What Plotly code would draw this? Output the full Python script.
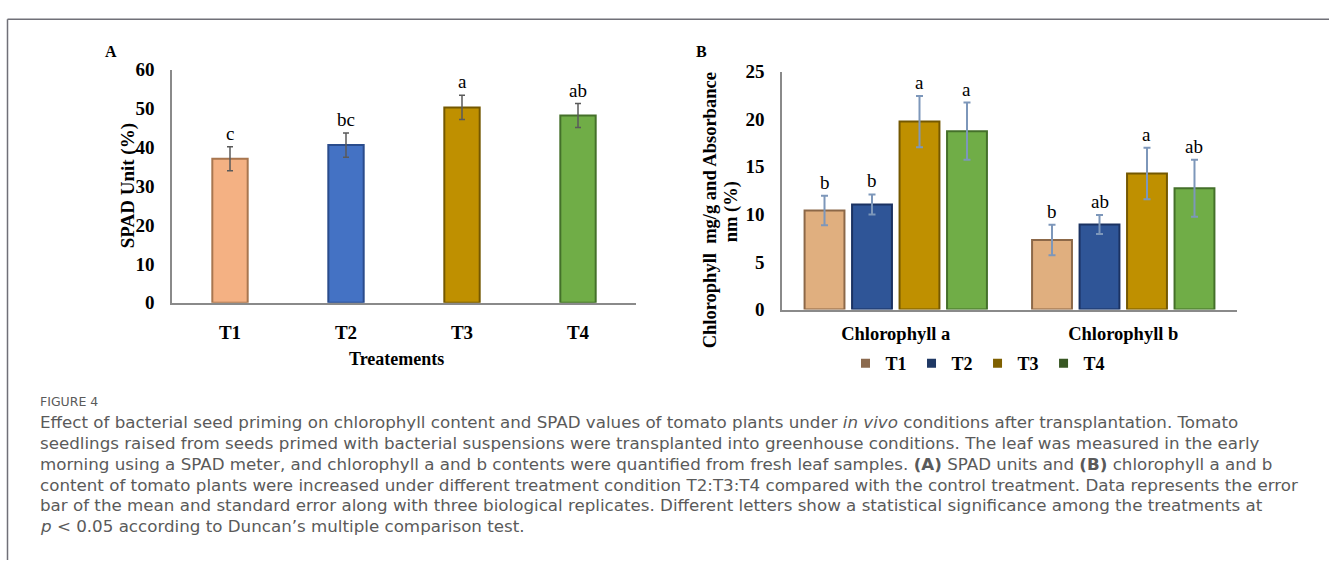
import plotly.graph_objects as go

W, H = 1329, 571

# ---------------- data ----------------
treatments = ["T1", "T2", "T3", "T4"]
spad_values = [37.1, 40.6, 50.3, 48.2]
spad_errors = [3.1, 3.1, 3.1, 3.1]
spad_letters = ["c", "bc", "a", "ab"]

pigments = ["Chlorophyll a", "Chlorophyll b"]
chl_T1 = [10.4, 7.3]
chl_T2 = [11.05, 8.95]
chl_T3 = [19.75, 14.3]
chl_T4 = [18.75, 12.75]
chl_T1_err = [1.55, 1.6]
chl_T2_err = [1.05, 1.0]
chl_T3_err = [2.7, 2.7]
chl_T4_err = [3.0, 3.0]
chl_T1_letters = ["b", "b"]
chl_T2_letters = ["b", "ab"]
chl_T3_letters = ["a", "a"]
chl_T4_letters = ["a", "ab"]

# ---------------- styles ----------------
SERIF = "Liberation Serif"
SANS = "DejaVu Sans"
A_fill = ["#F4B183", "#4472C4", "#BF9000", "#70AD47"]
A_edge = ["#A8764F", "#2A4C8C", "#745800", "#44702A"]
B_fill = ["#E0AF7F", "#2F5597", "#BF9000", "#70AD47"]
B_edge = ["#8C6848", "#1B3262", "#745800", "#44702A"]
B_legend = ["#8B6A4E", "#1F3864", "#7F6000", "#385723"]

def px_x(p):
    return p / W

def px_y(p):
    return 1 - p / H

# panel geometry (pixels)
A_left, A_right, A_bottom, A_top = 172, 636, 304, 62
B_left, B_right, B_bottom, B_top = 782, 1237, 311, 64
B_bargap, B_groupgap = 0.165, 0.16

fig = go.Figure()

# Panel A
fig.add_trace(go.Bar(
    x=treatments, y=spad_values, xaxis="x", yaxis="y",
    width=0.305,
    marker=dict(color=A_fill, line=dict(color=A_edge, width=2)),
    error_y=dict(type="data", array=spad_errors, color="#5A5A5A", thickness=1.5, width=3),
    showlegend=False, hoverinfo="skip",
))

# Panel B
b_series = [
    (chl_T1, chl_T1_err, chl_T1_letters),
    (chl_T2, chl_T2_err, chl_T2_letters),
    (chl_T3, chl_T3_err, chl_T3_letters),
    (chl_T4, chl_T4_err, chl_T4_letters),
]
for i, (vals, errs, _) in enumerate(b_series):
    fig.add_trace(go.Bar(
        x=pigments, y=vals, xaxis="x2", yaxis="y2", name=treatments[i],
        marker=dict(color=B_fill[i], line=dict(color=B_edge[i], width=2)),
        error_y=dict(type="data", array=errs, color="#7D97BA", thickness=2, width=3.5),
        showlegend=False, hoverinfo="skip",
    ))
# legend entries
for i, t in enumerate(treatments):
    fig.add_trace(go.Scatter(
        x=[None], y=[None], xaxis="x2", yaxis="y2", name=t, mode="markers",
        marker=dict(symbol="square", size=9, color=B_legend[i]),
        showlegend=True,
    ))

ann = []
# letters panel A
for t, v, e, l in zip(treatments, spad_values, spad_errors, spad_letters):
    ann.append(dict(x=t, y=v + e, xref="x", yref="y", text=l, showarrow=False,
                    xanchor="center", yanchor="bottom", yshift=1,
                    font=dict(family=SERIF, size=19, color="#000")))
# letters panel B
cat_px = (B_right - B_left) / len(pigments)
slot_px = cat_px * (1 - B_bargap) / len(treatments)
for i, (vals, errs, letters) in enumerate(b_series):
    for p, v, e, l in zip(pigments, vals, errs, letters):
        ann.append(dict(x=p, y=v + e, xref="x2", yref="y2", text=l, showarrow=False,
                        xanchor="center", yanchor="bottom", yshift=1, xshift=(i - 1.5) * slot_px,
                        font=dict(family=SERIF, size=19, color="#000")))

def paper_text(x, y, text, size, angle=0, family=SERIF):
    return dict(x=px_x(x), y=px_y(y), xref="paper", yref="paper", text=text,
                xanchor="center", yanchor="middle", textangle=angle, showarrow=False,
                font=dict(family=family, size=size, color="#000"))

# axis titles & panel labels
ann += [
    paper_text(111, 43, "<b>A</b>", 16),
    paper_text(701, 43, "<b>B</b>", 16),
    paper_text(128, 183, "<b>SPAD Unit (%)</b>", 19, -90),
    paper_text(396, 362, "<b>Treatements</b>", 18),
    paper_text(710, 208, "<b>Chlorophyll  mg/g and Absorbance</b>", 18.5, -90),
    paper_text(731, 210, "<b>nm (%)</b>", 18.5, -90),
]

# caption
caption_title = "FIGURE 4"
caption_lines = [
    "Effect of bacterial seed priming on chlorophyll content and SPAD values of tomato plants under <i>in vivo</i> conditions after transplantation. Tomato",
    "seedlings raised from seeds primed with bacterial suspensions were transplanted into greenhouse conditions. The leaf was measured in the early",
    "morning using a SPAD meter, and chlorophyll a and b contents were quantified from fresh leaf samples. <b>(A)</b> SPAD units and <b>(B)</b> chlorophyll a and b",
    "content of tomato plants were increased under different treatment condition T2:T3:T4 compared with the control treatment. Data represents the error",
    "bar of the mean and standard error along with three biological replicates. Different letters show a statistical significance among the treatments at",
    "<i>p</i> < 0.05 according to Duncan\u2019s multiple comparison test.",
]
ann.append(dict(x=px_x(38), y=px_y(406), xref="paper", yref="paper", text=caption_title,
                xanchor="left", yanchor="middle", showarrow=False,
                font=dict(family=SANS, size=12.5, color="#5A5A5A")))
for k, line in enumerate(caption_lines):
    ann.append(dict(x=px_x(38), y=px_y(428 + 21.6 * k), xref="paper", yref="paper", text=line,
                    xanchor="left", yanchor="middle", showarrow=False,
                    font=dict(family=SANS, size=16.7, color="#5A5A5A")))

axis_line = "#8A8A8A"
tick_font = dict(family=SERIF, size=19, color="#000", weight="bold")

fig.update_layout(
    width=W, height=H,
    margin=dict(l=0, r=0, t=0, b=0),
    paper_bgcolor="white", plot_bgcolor="white",
    barmode="group", bargap=B_bargap, bargroupgap=B_groupgap,
    xaxis=dict(domain=[px_x(A_left), px_x(A_right)], anchor="y", type="category",
               showline=True, linecolor=axis_line, linewidth=1.5, ticks="",
               showgrid=False, tickfont=tick_font, ticklabelstandoff=12, fixedrange=True),
    yaxis=dict(domain=[px_y(A_bottom), px_y(A_top)], anchor="x", range=[0, 60], dtick=10,
               showline=True, linecolor=axis_line, linewidth=1.5, ticks="", showgrid=False,
               zeroline=False, tickfont=tick_font, ticklabelstandoff=12, fixedrange=True),
    xaxis2=dict(domain=[px_x(B_left), px_x(B_right)], anchor="y2", type="category",
                showline=True, linecolor=axis_line, linewidth=1.5, ticks="",
                showgrid=False, tickfont=dict(family=SERIF, size=18.5, color="#000", weight="bold"),
                ticklabelstandoff=6, fixedrange=True),
    yaxis2=dict(domain=[px_y(B_bottom), px_y(B_top)], anchor="x2", range=[0, 25], dtick=5,
                showline=True, linecolor=axis_line, linewidth=1.5, ticks="", showgrid=False,
                zeroline=False, tickfont=tick_font, ticklabelstandoff=12, fixedrange=True),
    legend=dict(orientation="h", x=px_x(978), y=px_y(367), xanchor="center", yanchor="middle",
                font=dict(family=SERIF, size=18, color="#000", weight="bold"),
                bgcolor="rgba(0,0,0,0)", itemwidth=30, traceorder="normal"),
    annotations=ann,
    shapes=[
        dict(type="line", xref="paper", yref="paper", x0=px_x(7.5), x1=1, y0=px_y(9.5), y1=px_y(9.5),
             line=dict(color="#707078", width=1.5)),
        dict(type="line", xref="paper", yref="paper", x0=px_x(7.5), x1=px_x(7.5), y0=0, y1=px_y(9.5),
             line=dict(color="#707078", width=1.5)),
    ],
)

fig.write_html("out.html")
